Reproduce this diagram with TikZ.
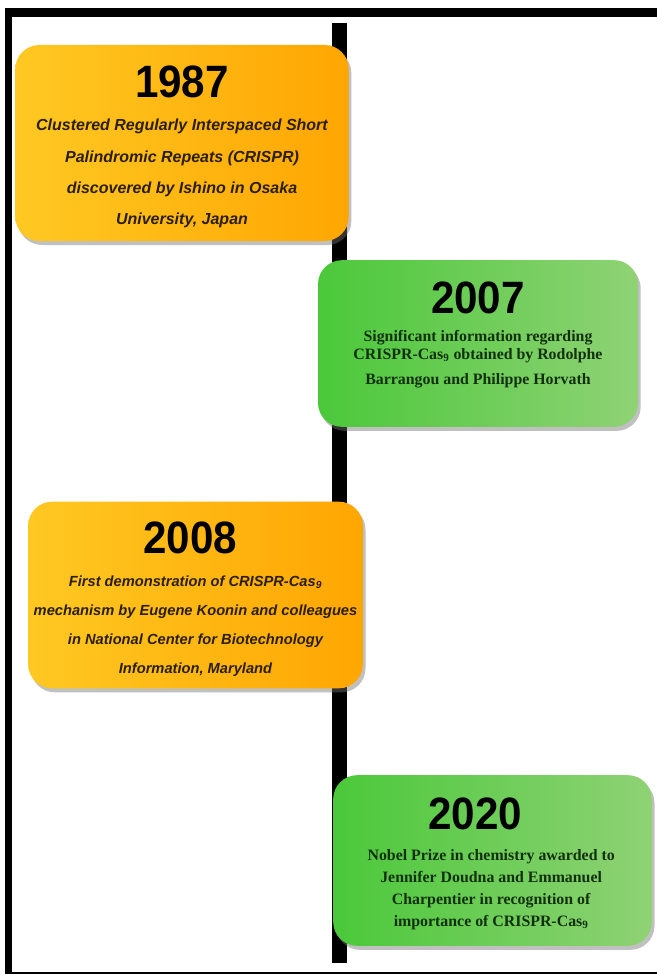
\documentclass[tikz,border=0pt]{standalone}
\usepackage{fontspec}
\setmainfont{Liberation Sans}
\newfontfamily\yearfont[FakeStretch=0.93]{Liberation Sans}
\newfontfamily\sansdesc{Liberation Sans}
\newfontfamily\serifdesc{Liberation Serif}
\usetikzlibrary{positioning,shadows}

\definecolor{orangeL}{HTML}{FFC823}
\definecolor{orangeR}{HTML}{FFA602}
\definecolor{greenL}{HTML}{4BC83A}
\definecolor{greenR}{HTML}{8FD275}
\definecolor{orangeInk}{HTML}{2A1E04}
\definecolor{greenInk}{HTML}{12300E}

\begin{document}
\begin{tikzpicture}[x=0.75pt, y=-0.75pt,
   every node/.style={inner sep=0pt, outer sep=0pt},
   eventbox/.style={rectangle, rounded corners=18pt, draw=none,
      drop shadow={shadow xshift=2pt, shadow yshift=-3pt, opacity=0.45, fill=black!55}},
   orangebox/.style={eventbox, left color=orangeL, right color=orangeR},
   greenbox/.style={eventbox, left color=greenL, right color=greenR},
   yeartext/.style={font=\yearfont\bfseries\fontsize{34}{34}\selectfont, text=black},
   orangetext/.style={align=center, text=orangeInk,
      font=\sansdesc\bfseries\itshape#1},
   greentext/.style={align=center, text=greenInk,
      font=\serifdesc\bfseries\fontsize{11.9}{#1}\selectfont},
   timeline/.style={line width=10.8pt}]

\useasboundingbox (0,0) rectangle (657,974);

% frame
\draw[line width=6.3pt] (5,12.5) -- (657,12.5);
\draw[line width=5.4pt] (8.8,9) -- (8.8,974);
\draw[line width=1.5pt] (5,972.5) -- (657,972.5);

% time axis
\coordinate (axisTop) at (339.5,23);
\coordinate (axisBot) at (339.5,963);
\draw[timeline] (axisTop) -- (axisBot);

% 1987
\node[orangebox, minimum width=250pt, minimum height=147pt] (b1987) at (182,143) {};
\node[yeartext, yshift=-27.5pt] (y1987) at (b1987.north) {1987};
\node[orangetext=\fontsize{12}{23.5pt}\selectfont, below=95.25pt of y1987.south, anchor=base] (d1987)
   {Clustered Regularly Interspaced Short\\
    Palindromic Repeats (CRISPR)\\
    discovered by Ishino in Osaka\\
    University, Japan};

% 2007
\node[greenbox, minimum width=240pt, minimum height=125pt] (b2007) at (478,343.5) {};
\node[yeartext, yshift=-28pt] (y2007) at (b2007.north) {2007};
\node[greentext=13pt, below=53.25pt of y2007.south, anchor=base] (d2007)
   {Significant information regarding\\
    CRISPR-Cas\textsubscript{9} obtained by Rodolphe\\[6pt]
    Barrangou and Philippe Horvath};

% 2008
\node[orangebox, minimum width=251pt, minimum height=140pt] (b2008) at (195.5,595) {};
\node[yeartext, yshift=-27pt, xshift=-4pt] (y2008) at (b2008.north) {2008};
\node[orangetext=\fontsize{11}{21.75pt}\selectfont, below=90pt of y2008.south, anchor=base, xshift=4pt] (d2008)
   {First demonstration of CRISPR-Cas\textsubscript{9}\\
    mechanism by Eugene Koonin and colleagues\\
    in National Center for Biotechnology\\
    Information, Maryland};

% 2020
\node[greenbox, minimum width=239pt, minimum height=128pt] (b2020) at (492.5,860.5) {};
\node[yeartext, yshift=-29pt, xshift=-13pt] (y2020) at (b2020.north) {2020};
\node[greentext=16.5pt, below=72.5pt of y2020.south, anchor=base, xshift=12pt] (d2020)
   {Nobel Prize in chemistry awarded to\\
    Jennifer Doudna and Emmanuel\\
    Charpentier in recognition of\\
    importance of CRISPR-Cas\textsubscript{9}};

\end{tikzpicture}
\end{document}
